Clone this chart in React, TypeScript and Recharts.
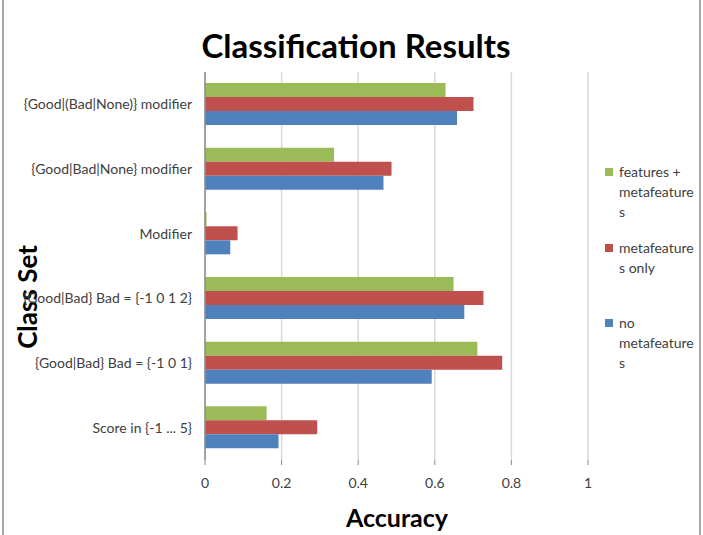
import { Bar, BarChart, CartesianGrid, XAxis, YAxis } from 'recharts';

const CATEGORIES = [
  '{Good|(Bad|None)} modifier',
  '{Good|Bad|None} modifier',
  'Modifier',
  '{Good|Bad} Bad = {-1 0 1 2}',
  '{Good|Bad} Bad = {-1 0 1}',
  'Score in {-1 ... 5}',
];
const FEATURES_PLUS_META = [0.628, 0.337, 0.004, 0.649, 0.711, 0.161];
const META_ONLY = [0.701, 0.487, 0.085, 0.727, 0.776, 0.293];
const NO_META = [0.658, 0.466, 0.066, 0.677, 0.592, 0.192];
const X_TICKS = [0, 0.2, 0.4, 0.6, 0.8, 1];

const SERIES = [
  { key: 'fm', color: '#9BBB59', lines: ['features +', 'metafeature', 's'] },
  { key: 'mo', color: '#C0504D', lines: ['metafeature', 's only'] },
  { key: 'nm', color: '#4F81BD', lines: ['no', 'metafeature', 's'] },
];
const LEGEND_TOPS = [172, 248, 323];

const FONT = 'Lato, "Open Sans", sans-serif';
const TEXT = '#404040';

const data = CATEGORIES.map((name, i) => ({
  name,
  fm: FEATURES_PLUS_META[i],
  mo: META_ONLY[i],
  nm: NO_META[i],
}));

export default function App() {
  return (
    <div style={{ position: 'absolute', left: 0, top: 0, width: 703, height: 535, background: '#fff' }}>
      <BarChart
        width={703}
        height={535}
        data={data}
        layout="vertical"
        margin={{ top: 72, right: 115, bottom: 45, left: 0 }}
        barCategoryGap="17%"
        barGap={0}
        style={{ fontFamily: FONT }}
      >
        <rect x={3} y={-2} width={697} height={540} fill="none" stroke="#8c8c8c" strokeWidth={1.5} />
        <CartesianGrid horizontal={false} stroke="#d9d9d9" strokeWidth={1.5} />
        <XAxis
          type="number"
          domain={[0, 1]}
          ticks={X_TICKS}
          height={30}
          axisLine={false}
          tickLine={{ stroke: '#8c8c8c' }}
          tickSize={5}
          tickMargin={13}
          tick={{ fontSize: 14, fill: TEXT }}
        />
        <YAxis
          type="category"
          dataKey="name"
          width={205}
          axisLine={{ stroke: '#8c8c8c', strokeWidth: 1.5 }}
          tickLine={false}
          tickSize={0}
          tickMargin={13}
          tick={{ fontSize: 14, fill: TEXT }}
        />
        <Bar dataKey="fm" fill="#9BBB59" isAnimationActive={false} />
        <Bar dataKey="mo" fill="#C0504D" isAnimationActive={false} />
        <Bar dataKey="nm" fill="#4F81BD" isAnimationActive={false} />
        <text x={356} y={58} textAnchor="middle" fontSize={33} fontWeight="bold" fill="#000">
          Classification Results
        </text>
        <text
          x={37}
          y={297}
          textAnchor="middle"
          fontSize={26}
          fontWeight="bold"
          fill="#000"
          transform="rotate(-90 37 297)"
        >
          Class Set
        </text>
        <text x={397} y={527} textAnchor="middle" fontSize={25} fontWeight="bold" fill="#000">
          Accuracy
        </text>
        {SERIES.map((s, i) => (
          <g key={s.key}>
            <rect x={605} y={LEGEND_TOPS[i] - 4} width={8} height={8} fill={s.color} />
            {s.lines.map((line, j) => (
              <text key={j} x={619} y={LEGEND_TOPS[i] + 5 + j * 20} fontSize={14} fill={TEXT}>
                {line}
              </text>
            ))}
          </g>
        ))}
      </BarChart>
    </div>
  );
}
